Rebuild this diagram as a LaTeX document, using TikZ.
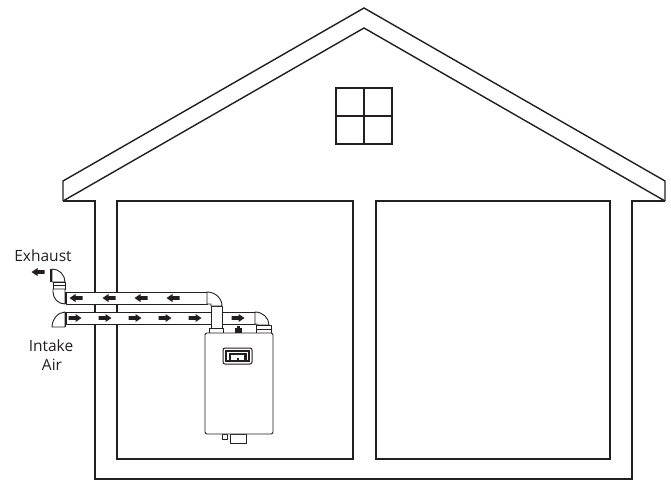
\documentclass[tikz,border=0pt]{standalone}
\usepackage{fontspec}
\setmainfont{Open Sans}
\definecolor{ink}{HTML}{231F20}
\begin{document}
\begin{tikzpicture}[x=1pt,y=-1pt,
  house/.style={draw=ink,line width=1.4pt,line join=miter},
  pipe/.style={draw=ink,fill=white,line width=0.9pt,line join=round},
  joint/.style={draw=ink,line width=1.8pt},
  label/.style={text=ink,font=\fontsize{15.5}{17}\selectfont,inner sep=0pt},
  flowR/.pic={\fill[ink] (-6.5,-1.8) -- (0.5,-1.8) -- (0.5,-4) -- (6.5,0) -- (0.5,4) -- (0.5,1.8) -- (-6.5,1.8) -- cycle;},
  flowL/.pic={\fill[ink] (6.5,-1.8) -- (-0.5,-1.8) -- (-0.5,-4) -- (-6.5,0) -- (-0.5,4) -- (-0.5,1.8) -- (6.5,1.8) -- cycle;}
]
\useasboundingbox (0,0) rectangle (671,481);

% roof
\draw[house] (63,201) -- (63,181) -- (364,8) -- (665,181) -- (665,201);
\draw[house] (63,201) -- (364,28) -- (665,201);
% gable window
\draw[house] (336,88) rectangle (392,144);
\draw[house] (364,88) -- (364,144) (336,116) -- (392,116);
% outer walls and floor
\draw[house] (63,201) -- (95,201) -- (95,479) -- (632,479) -- (632,201) -- (665,201);
% garage doors
\draw[house] (117,201) rectangle (353,459);
\draw[house] (376,201) rectangle (610,459);

% intake run (passes behind the exhaust riser)
\draw[pipe] (66,312) rectangle (255,324);
% exhaust riser
\draw[pipe] (211,306) rectangle (222,328);
% exhaust run
\draw[pipe] (66,292) rectangle (207,304);
% elbow on top of the exhaust riser
\draw[pipe] (207,292) .. controls (215.3,292) and (222,298.3) .. (222,306) -- (211,306) -- (211,304) -- (207,304) -- cycle;
\draw[pipe] (209,328) rectangle (223,333);
% intake elbow into the boiler
\draw[pipe] (255,312) .. controls (262.7,312) and (269,317.8) .. (269,325) -- (257,325) -- (257,324) -- (255,324) -- cycle;
\draw[pipe] (256,325) rectangle (271,333);
\draw[ink,line width=0.9pt] (256,329) -- (271,329);

% exhaust termination outside the wall
\draw[pipe] (52,282) -- (52,269) .. controls (59.2,269) and (65,274.8) .. (65,282) -- cycle;
\draw[joint] (51,269) -- (51,282);
\draw[pipe] (53,282) rectangle (65,289);
\draw[ink,line width=0.9pt] (53,285) -- (65,285);
\draw[pipe] (53,289) -- (53,292) .. controls (53,298.6) and (58.4,304) .. (65,304) -- (65,289) -- cycle;
\draw[joint] (66,292) -- (66,304);
% intake termination
\draw[pipe] (52,327) .. controls (52,319.8) and (57.8,312) .. (65,312) -- (65,327) -- cycle;
\draw[joint] (65.5,312) -- (65.5,326.5);

% boiler
\draw[pipe] (222,434) rectangle (227,439);
\draw[pipe] (230,434) rectangle (246,443);
\draw[pipe, rounded corners=2pt] (205,333) rectangle (273,434);
\fill[ink] (235,328) rectangle (242,333);
\fill[ink] (237,325.5) rectangle (240,328);
\draw[ink,line width=1pt,rounded corners=2pt] (223,348) rectangle (252,364);
\draw[ink,line width=1.4pt] (226,351) rectangle (249,361);
\fill[ink] (228.5,353) rectangle (231,359.5);
\fill[ink] (244,353) rectangle (246.5,359.5);
\fill[ink] (231,353) rectangle (244,354.5);
\fill[ink] (236.5,357.5) rectangle (239,360);

% flow arrows
\pic at (38,272) {flowL};
\foreach \x in {76,109,141,173} \pic at (\x,298) {flowL};
\foreach \x in {75,105,135,165,195,238} \pic at (\x,318) {flowR};

% labels
\node[label] (exhaust) at (43,256) {Exhaust};
\node[label] (intake) at (51,346) {Intake};
\node[label] (air) at (52,365) {Air};
\end{tikzpicture}
\end{document}
